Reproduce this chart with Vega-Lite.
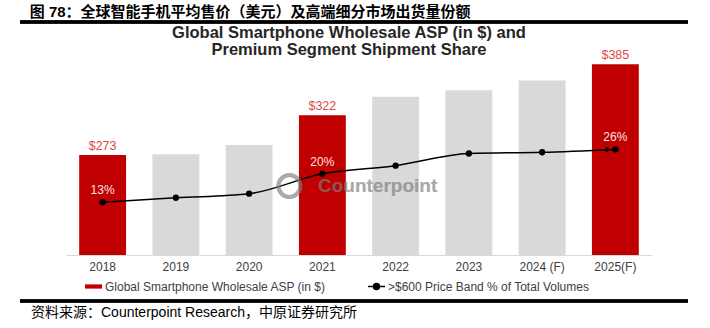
{
  "$schema": "https://vega.github.io/schema/vega-lite/v6.json",
  "background": "white",
  "padding": {"left": 18, "right": 22, "top": 4, "bottom": 2},
  "config": {"view": {"stroke": null}, "font": "Liberation Sans"},
  "title": {
    "text": "图 78：全球智能手机平均售价（美元）及高端细分市场出货量份额",
    "anchor": "start",
    "font": "Liberation Sans, Noto Sans CJK SC",
    "fontSize": 15,
    "fontWeight": "bold",
    "color": "#000000",
    "dx": 11,
    "offset": 1
  },
  "datasets": {
    "main": [
      {"year": "2018", "asp": 273, "pct": 13, "series": "Global Smartphone Wholesale ASP (in $)", "aspLabel": "$273", "pctLabel": "13%"},
      {"year": "2019", "asp": 274, "pct": 14.1, "series": "Other years", "aspLabel": "", "pctLabel": ""},
      {"year": "2020", "asp": 285.5, "pct": 15.1, "series": "Other years", "aspLabel": "", "pctLabel": ""},
      {"year": "2021", "asp": 322, "pct": 20, "series": "Global Smartphone Wholesale ASP (in $)", "aspLabel": "$322", "pctLabel": "20%"},
      {"year": "2022", "asp": 345, "pct": 22, "series": "Other years", "aspLabel": "", "pctLabel": ""},
      {"year": "2023", "asp": 353, "pct": 25, "series": "Other years", "aspLabel": "", "pctLabel": ""},
      {"year": "2024 (F)", "asp": 365, "pct": 25.3, "series": "Other years", "aspLabel": "", "pctLabel": ""},
      {"year": "2025(F)", "asp": 385, "pct": 26, "series": "Global Smartphone Wholesale ASP (in $)", "aspLabel": "$385", "pctLabel": "26%"}
    ]
  },
  "spacing": 0,
  "resolve": {
    "scale": {"x": "independent", "y": "independent", "fill": "independent", "stroke": "independent"},
    "legend": {"fill": "independent", "stroke": "independent"}
  },
  "vconcat": [
    {
      "width": 586,
      "height": 203,
      "title": {
        "text": ["Global Smartphone Wholesale ASP (in $) and", "Premium Segment Shipment Share"],
        "fontSize": 16.5,
        "fontWeight": "bold",
        "color": "#262626",
        "lineHeight": 16.5,
        "frame": "group",
        "anchor": "middle",
        "offset": -37.5,
        "dx": -10
      },
      "data": {"name": "main"},
      "layer": [
        {
          "encoding": {
            "x": {
              "field": "year",
              "type": "nominal",
              "sort": null,
              "scale": {"paddingInner": 0.36, "paddingOuter": 0.18},
              "axis": {
                "title": null,
                "labelAngle": 0,
                "ticks": false,
                "domainColor": "#d9d9d9",
                "domainWidth": 1,
                "labelFontSize": 12,
                "labelColor": "#404040",
                "labelPadding": 6,
                "labelFont": "Liberation Sans"
              }
            }
          },
          "layer": [
            {
              "layer": [
                {
                  "mark": {"type": "bar"},
                  "encoding": {
                    "y": {"field": "asp", "type": "quantitative", "scale": {"domain": [150, 400], "zero": false, "nice": false}, "axis": null},
                    "y2": {"datum": 150},
                    "fill": {
                      "field": "series",
                      "type": "nominal",
                      "scale": {"domain": ["Global Smartphone Wholesale ASP (in $)", "Other years"], "range": ["#c00000", "#d9d9d9"]},
                      "legend": {
                        "values": ["Global Smartphone Wholesale ASP (in $)"],
                        "title": null,
                        "orient": "none",
                        "legendX": 18,
                        "legendY": 225,
                        "direction": "horizontal",
                        "symbolType": "M-1,-0.25H1V0.25H-1Z",
                        "symbolSize": 289,
                        "labelFontSize": 12,
                        "labelLimit": 400,
                        "labelOffset": 2,
                        "labelColor": "#404040",
                        "labelFont": "Liberation Sans"
                      }
                    }
                  }
                },
                {
                  "mark": {"type": "text", "dy": -9, "fontSize": 12.5, "color": "#e04848"},
                  "encoding": {
                    "y": {"field": "asp", "type": "quantitative", "scale": {"domain": [150, 400], "zero": false, "nice": false}},
                    "text": {"field": "aspLabel", "type": "nominal"}
                  }
                }
              ]
            },
            {
              "layer": [
                {
                  "mark": {"type": "line", "interpolate": "monotone", "strokeWidth": 1.5},
                  "encoding": {
                    "y": {"field": "pct", "type": "quantitative", "scale": {"domain": [0, 50], "nice": false}, "axis": null},
                    "stroke": {
                      "datum": ">$600 Price Band % of Total Volumes",
                      "type": "nominal",
                      "scale": {"range": ["#000000"]},
                      "legend": {
                        "title": null,
                        "orient": "none",
                        "legendX": 301,
                        "legendY": 225,
                        "direction": "horizontal",
                        "symbolType": "M-1,0H1M0.35,0A0.35,0.35,0,1,1,-0.35,0A0.35,0.35,0,1,1,0.35,0",
                        "symbolSize": 289,
                        "symbolStrokeWidth": 1.5,
                        "symbolFillColor": "#000000",
                        "labelFontSize": 12,
                        "labelLimit": 400,
                        "labelOffset": 2,
                        "labelColor": "#404040",
                        "labelFont": "Liberation Sans"
                      }
                    }
                  }
                },
                {
                  "mark": {"type": "point", "filled": true, "color": "#000000", "size": 40, "opacity": 1},
                  "encoding": {
                    "y": {"field": "pct", "type": "quantitative", "scale": {"domain": [0, 50], "nice": false}}
                  }
                },
                {
                  "transform": [{"filter": "datum.year == '2025(F)'"}],
                  "mark": {"type": "point", "shape": "triangle-right", "filled": true, "color": "#000000", "size": 35, "opacity": 1, "xOffset": -7},
                  "encoding": {
                    "y": {"field": "pct", "type": "quantitative", "scale": {"domain": [0, 50], "nice": false}}
                  }
                },
                {
                  "mark": {"type": "text", "dy": -12, "fontSize": 12, "color": "#fbe3e3"},
                  "encoding": {
                    "y": {"field": "pct", "type": "quantitative", "scale": {"domain": [0, 50], "nice": false}},
                    "text": {"field": "pctLabel", "type": "nominal"}
                  }
                },
                {
                  "mark": {"type": "text", "fontSize": 19, "fontWeight": "bold", "color": "#808080", "opacity": 0.12, "xOffset": -18},
                  "encoding": {
                    "x": {"datum": "2022"},
                    "y": {"datum": 17, "type": "quantitative"},
                    "text": {"value": "Counterpoint"}
                  }
                },
                {
                  "mark": {"type": "point", "shape": "circle", "filled": false, "color": "#808080", "strokeWidth": 4, "size": 480, "opacity": 0.12, "xOffset": -33},
                  "encoding": {
                    "x": {"datum": "2021"},
                    "y": {"datum": 17, "type": "quantitative"}
                  }
                }
              ]
            }
          ],
          "resolve": {"scale": {"y": "independent"}}
        },
        {
          "layer": [
            {
              "mark": {"type": "rule", "color": "#000000", "strokeWidth": 2.5, "clip": false},
              "encoding": {
                "x": {"datum": -0.0785, "type": "quantitative", "scale": {"domain": [0, 1], "nice": false, "zero": false}, "axis": null},
                "x2": {"datum": 1.0614},
                "y": {"datum": 1.1478, "type": "quantitative", "scale": {"domain": [0, 1], "nice": false, "zero": false}, "axis": null}
              }
            },
            {
              "mark": {"type": "rule", "color": "#000000", "strokeWidth": 2.5, "clip": false},
              "encoding": {
                "x": {"datum": -0.0785, "type": "quantitative", "scale": {"domain": [0, 1], "nice": false, "zero": false}, "axis": null},
                "x2": {"datum": 1.0614},
                "y": {"datum": -0.2266, "type": "quantitative", "scale": {"domain": [0, 1], "nice": false, "zero": false}, "axis": null}
              }
            }
          ]
        }
      ],
      "resolve": {"scale": {"x": "independent", "y": "independent"}}
    },
    {
      "width": 586,
      "height": 1,
      "data": {"values": [{"v": 0}]},
      "title": {
        "text": "资料来源：Counterpoint Research，中原证券研究所",
        "orient": "bottom",
        "anchor": "start",
        "font": "Liberation Sans, Noto Sans CJK SC",
        "fontSize": 14,
        "fontWeight": "normal",
        "color": "#000000",
        "dx": -35,
        "offset": 2
      },
      "mark": {"type": "point", "opacity": 0, "size": 1},
      "encoding": {
        "x": {"field": "v", "type": "quantitative", "axis": null}
      }
    }
  ]
}
